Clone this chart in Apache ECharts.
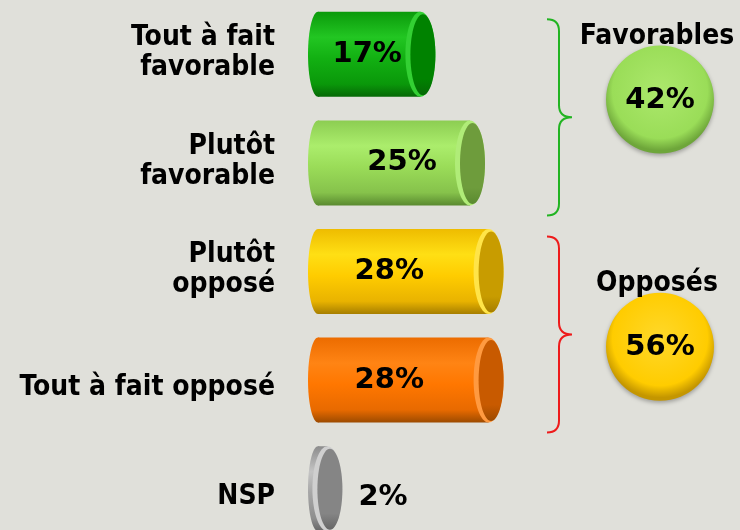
<!DOCTYPE html>
<html><head><meta charset="utf-8">
<script src="https://cdn.jsdelivr.net/npm/echarts@6/dist/echarts.min.js"></script>
<style>html,body{margin:0;padding:0;background:#e0e0da;}#c{width:740px;height:530px;}</style>
</head><body><div id="c"></div>
<script>
// ---- data ----
const categories = ['Tout à fait\nfavorable', 'Plutôt\nfavorable', 'Plutôt\nopposé', 'Tout à fait opposé', 'NSP'];
const values = [17, 25, 28, 28, 2];
const groupNames = ['Favorables', 'Opposés'];
const groupTotals = [42, 56];
const groupFirst = [0, 2];
const groupLast = [1, 3];

// ---- styles ----
const FONT_CAT = '"DejaVu Sans Condensed","DejaVu Sans",sans-serif';
const FONT_NUM = '"DejaVu Sans",sans-serif';
const palettes = [
  {body: ['#0b9a0b', '#22c622', '#12b012', '#0a980a', '#066806'], rim: '#33d033', cap: '#008200'},
  {body: ['#8ccd52', '#abed6c', '#9adc58', '#86c24b', '#5a8a30'], rim: '#b0ec78', cap: '#6e9c3c'},
  {body: ['#eebc00', '#ffdf14', '#ffcc00', '#e9b300', '#a67e00'], rim: '#ffe448', cap: '#c89c00'},
  {body: ['#ec6c00', '#ff8414', '#ff7700', '#e86a00', '#9c4a00'], rim: '#ff9a40', cap: '#c85a00'},
  {body: ['#8c8c8c', '#c4c4c4', '#a6a6a6', '#8e8e8e', '#666666'], rim: '#cfcfcf', cap: '#858585'}
];
const labelShift = [3, 13, -9, -9, 0];
const groupStyle = [
  {line: '#22b422', circle: ['#ace86c', '#9add58', '#6ea63a'], dy: -9},
  {line: '#ee1b1b', circle: ['#ffd82a', '#ffcc00', '#c49600'], dy: 21}
];

function grad(stops) {
  const offs = [0, 0.3, 0.55, 0.85, 1];
  return {type: 'linear', x: 0, y: 0, x2: 0, y2: 1,
    colorStops: stops.map((c, k) => ({offset: offs[k], color: c}))};
}

function renderBar(params, api) {
  const i = params.dataIndex;
  const v = api.value(0);
  const cat = api.value(1);
  const p0 = api.coord([0, cat]);
  const p1 = api.coord([v, cat]);
  const x0 = p0[0], cy = p0[1];
  const ry = 42.5, rxL = 10, rxR = 15;
  const right = p1[0] + 22;
  const capCx = right - rxR;
  const pal = palettes[i];
  const g = grad(pal.body);
  const children = [
    {type: 'rect', shape: {x: x0 + rxL, y: cy - ry, width: Math.max(0, capCx - x0 - rxL), height: 2 * ry}, style: {fill: g}},
    {type: 'ellipse', shape: {cx: x0 + rxL, cy: cy, rx: rxL, ry: ry}, style: {fill: g}},
    {type: 'ellipse', shape: {cx: capCx, cy: cy, rx: rxR, ry: ry}, style: {fill: pal.rim}},
    {type: 'ellipse', shape: {cx: capCx + 2.5, cy: cy + 0.5, rx: rxR - 2.5, ry: ry - 2},
      style: {fill: {type: 'linear', x: 0, y: 0, x2: 0, y2: 1, colorStops: [{offset: 0, color: pal.cap}, {offset: 0.8, color: pal.cap}, {offset: 1, color: pal.body[4]}]}}}
  ];
  const outside = v < 5;
  children.push({
    type: 'text',
    style: {
      text: v + '%',
      x: outside ? right + 16 : (x0 + capCx) / 2 + labelShift[i],
      y: outside ? cy + 9 : cy,
      align: outside ? 'left' : 'center',
      verticalAlign: 'middle',
      fontFamily: FONT_NUM, fontWeight: 'bold', fontSize: 29,
      fill: '#000'
    }
  });
  return {type: 'group', children: children};
}

function renderGroup(params, api) {
  const i = params.dataIndex;
  const first = api.value(0), last = api.value(1), total = api.value(2);
  const yTop = api.coord([0, first])[1] - 35;
  const yBot = api.coord([0, last])[1] + 52.5;
  const yMid = (yTop + yBot) / 2;
  const st = groupStyle[i];
  const xa = 547, xb = 559, xt = 572, r = 12;
  const d = `M${xa} ${yTop} Q${xb} ${yTop} ${xb} ${yTop + r} L${xb} ${yMid - r} Q${xb} ${yMid} ${xt} ${yMid} ` +
            `Q${xb} ${yMid} ${xb} ${yMid + r} L${xb} ${yBot - r} Q${xb} ${yBot} ${xa} ${yBot}`;
  const ccx = 660, ccy = (api.coord([0, first])[1] + api.coord([0, last])[1]) / 2 + st.dy, cr = 54;
  return {type: 'group', children: [
    {type: 'path', shape: {pathData: d}, style: {fill: null, stroke: st.line, lineWidth: 2}},
    {type: 'circle', shape: {cx: ccx, cy: ccy, r: cr},
      style: {fill: {type: 'radial', x: 0.5, y: 0.42, r: 0.55, colorStops: [
        {offset: 0, color: st.circle[0]}, {offset: 0.8, color: st.circle[1]}, {offset: 1, color: st.circle[2]}]},
        shadowBlur: 4, shadowOffsetY: 2, shadowColor: 'rgba(0,0,0,0.3)'}},
    {type: 'text', style: {text: total + '%', x: ccx, y: ccy + 1, align: 'center', verticalAlign: 'middle',
      fontFamily: FONT_NUM, fontWeight: 'bold', fontSize: 29, fill: '#000'}},
    {type: 'text', style: {text: groupNames[i], x: ccx - 3, y: ccy - 63, align: 'center', verticalAlign: 'middle',
      fontFamily: FONT_CAT, fontWeight: 'bold', fontSize: 28, fill: '#000'}}
  ]};
}

const chart = echarts.init(document.getElementById('c'));
chart.setOption({
  backgroundColor: '#e0e0da',
  animation: false,
  grid: {left: 308, top: 0, width: 372, height: 543, outerBoundsMode: 'none', containLabel: false},
  xAxis: {type: 'value', min: 0, max: 60, show: false},
  yAxis: {
    type: 'category', inverse: true, data: categories,
    axisLine: {show: false}, axisTick: {show: false}, splitLine: {show: false},
    axisLabel: {
      margin: 33, color: '#000', fontFamily: FONT_CAT, fontWeight: 'bold', fontSize: 28, lineHeight: 33,
      formatter: function (v) {
        const parts = v.split('\n');
        if (parts.length === 1) return '{one|' + v + '}';
        return '{a|' + parts[0] + '}\n{b|' + parts[1] + '}';
      },
      rich: {
        one: {fontFamily: FONT_CAT, fontWeight: 'bold', fontSize: 28, lineHeight: 33, padding: [16, 0, 0, 0], align: 'right'},
        a: {fontFamily: FONT_CAT, fontWeight: 'bold', fontSize: 28, lineHeight: 33, align: 'right'},
        b: {fontFamily: FONT_CAT, fontWeight: 'bold', fontSize: 28, lineHeight: 33, padding: [0, 0, 6, 0], align: 'right'}
      }
    }
  },
  series: [
    {type: 'custom', renderItem: renderBar, encode: {x: 0, y: 1},
      data: values.map((v, i) => [v, i]), clip: false},
    {type: 'custom', renderItem: renderGroup, encode: {y: 0},
      data: groupTotals.map((t, i) => [groupFirst[i], groupLast[i], t]), clip: false}
  ]
});
</script></body></html>
